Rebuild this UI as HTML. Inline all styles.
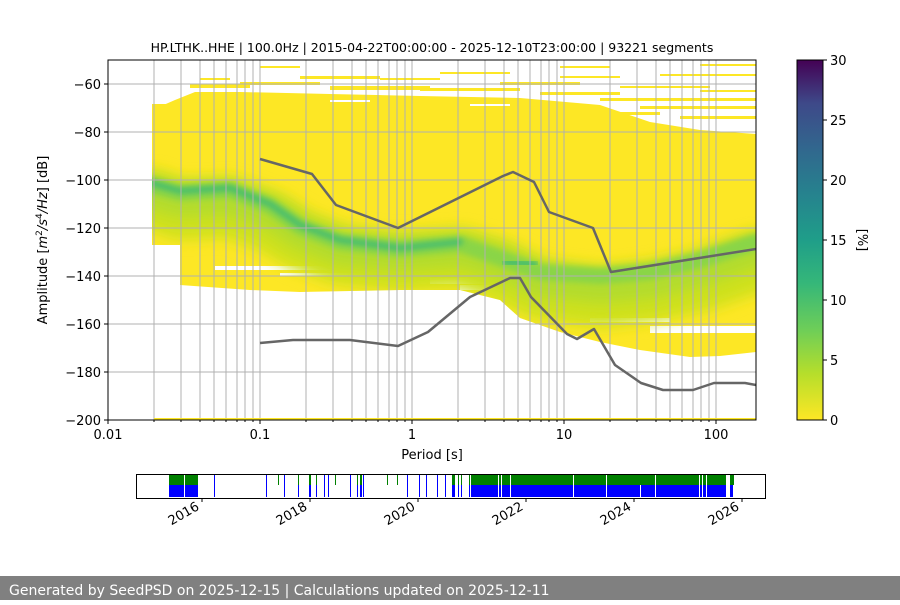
<!DOCTYPE html>
<html><head><meta charset="utf-8"><style>
body{margin:0;background:#fff;width:900px;height:600px;overflow:hidden;font-family:"Liberation Sans","DejaVu Sans",sans-serif}
</style></head><body>
<svg width="900" height="600" viewBox="0 0 900 600" xmlns="http://www.w3.org/2000/svg" font-family="'DejaVu Sans','Liberation Sans',sans-serif">
<defs>
<linearGradient id="vir" x1="0" y1="1" x2="0" y2="0">
<stop offset="0" stop-color="#fde725"/><stop offset="0.13" stop-color="#b5de2b"/><stop offset="0.25" stop-color="#6ece58"/><stop offset="0.38" stop-color="#35b779"/><stop offset="0.5" stop-color="#1f9e89"/><stop offset="0.63" stop-color="#26828e"/><stop offset="0.75" stop-color="#31688e"/><stop offset="0.88" stop-color="#3e4989"/><stop offset="1" stop-color="#440154"/>
</linearGradient>
<filter id="bl" x="-10%" y="-50%" width="120%" height="200%"><feGaussianBlur stdDeviation="7"/></filter>
<filter id="bl2" x="-10%" y="-50%" width="120%" height="200%"><feGaussianBlur stdDeviation="3"/></filter>
<clipPath id="cp"><rect x="108" y="60" width="648" height="360"/></clipPath>
<clipPath id="cy"><path d="M152,110 L175,100 L195,92 L240,92 L330,94 L420,96 L520,98 L600,105 L650,122 L700,130 L756,134 L756,352 L720,356 L690,357 L640,350 L600,342 L560,332 L520,318 L500,300 L460,290 L400,290 L300,292 L250,290 L180,285 L180,245 L152,245 Z"/></clipPath>
</defs>
<text x="432" y="52" font-size="12.5" text-anchor="middle">HP.LTHK..HHE | 100.0Hz | 2015-04-22T00:00:00 - 2025-12-10T23:00:00 | 93221 segments</text>
<g clip-path="url(#cp)">
<path d="M152,110 L175,100 L195,92 L240,92 L330,94 L420,96 L520,98 L600,105 L650,122 L700,130 L756,134 L756,352 L720,356 L690,357 L640,350 L600,342 L560,332 L520,318 L500,300 L460,290 L400,290 L300,292 L250,290 L180,285 L180,245 L152,245 Z" fill="#fde725"/>
<g fill="#fde725">
<rect x="152" y="104" width="30" height="6"/><rect x="190" y="84" width="60" height="4"/><rect x="200" y="78" width="30" height="2"/><rect x="240" y="82" width="80" height="3"/><rect x="260" y="66" width="40" height="2"/><rect x="300" y="76" width="80" height="3"/><rect x="330" y="86" width="100" height="4"/><rect x="380" y="78" width="60" height="2"/><rect x="420" y="88" width="100" height="3"/><rect x="440" y="72" width="70" height="2"/><rect x="500" y="82" width="80" height="3"/><rect x="540" y="92" width="80" height="3"/><rect x="560" y="76" width="60" height="2"/><rect x="600" y="98" width="156" height="3"/><rect x="620" y="86" width="90" height="2"/><rect x="640" y="106" width="116" height="3"/><rect x="660" y="74" width="96" height="2"/><rect x="700" y="64" width="56" height="2"/><rect x="680" y="116" width="76" height="3"/><rect x="700" y="90" width="56" height="2"/><rect x="620" y="112" width="40" height="3"/><rect x="230" y="98" width="50" height="2"/><rect x="560" y="66" width="50" height="2"/>
</g>
<g fill="#fff">
<rect x="215" y="266" width="120" height="4"/><rect x="280" y="273" width="150" height="3"/><rect x="430" y="278" width="60" height="6"/><rect x="460" y="285" width="50" height="5"/><rect x="650" y="326" width="106" height="7"/><rect x="590" y="318" width="80" height="4"/><rect x="330" y="100" width="40" height="2"/><rect x="470" y="104" width="40" height="2"/>
</g>
<g clip-path="url(#cy)" fill="none" stroke-linecap="round" stroke-linejoin="round">
<polyline filter="url(#bl)" stroke="#cfe11d" stroke-width="60" points="152,200 180,210 230,208 270,222 300,240 340,255 400,262 460,258 500,270 540,290 600,298 650,292 700,282 756,262"/>
<polyline filter="url(#bl)" stroke="#b2dc2d" stroke-width="34" points="152,192 180,200 230,198 270,212 300,232 340,248 400,254 460,250 500,262 540,280 600,286 650,282 700,270 756,250"/>
<polyline filter="url(#bl2)" stroke="#8ad547" stroke-width="16" points="152,186 180,193 230,190 270,206 300,227 340,242 400,249 460,244 500,258 540,272 600,276 650,272 700,260 756,242"/>
<polyline filter="url(#bl2)" stroke="#3dba74" stroke-width="6" opacity="0.9" points="152,183 180,191 230,188 270,204 300,225 340,240 400,248 460,242"/>
<polyline filter="url(#bl2)" stroke="#3dba74" stroke-width="7" opacity="0.9" points="505,262 535,264"/>
</g>
</g>
<g stroke="#b0b0b0" stroke-width="1">
<path d="M154,60V420M181,60V420M200,60V420M214,60V420M226,60V420M237,60V420M245,60V420M253,60V420M260,60V420M306,60V420M333,60V420M352,60V420M366,60V420M378,60V420M389,60V420M397,60V420M405,60V420M412,60V420M458,60V420M485,60V420M504,60V420M518,60V420M530,60V420M541,60V420M549,60V420M557,60V420M564,60V420M610,60V420M637,60V420M656,60V420M670,60V420M682,60V420M693,60V420M701,60V420M709,60V420M716,60V420"/>
<path d="M108,84H756M108,132H756M108,180H756M108,228H756M108,276H756M108,324H756M108,372H756"/>
</g>
<g fill="none" stroke="#666" stroke-width="2.5" stroke-linejoin="round" clip-path="url(#cp)">
<polyline points="260,159 312,174 336,205 398,228 503,176 513,172 534,182 549,212 593,228 611,272 756,249"/>
<polyline points="260,343 293,340 350,340 398,346 428,332 470,297 510,278 520,278 531,297 567,334 577,339 594,329 615,365 641,383 663,390 693,390 714,383 745,383 756,385"/>
</g>
<rect x="154" y="418" width="602" height="2" fill="#fde725"/>
<rect x="108" y="60" width="648" height="360" fill="none" stroke="#000" stroke-width="1"/>
<g font-size="13" text-anchor="end">
<path d="M104,84H108M104,132H108M104,180H108M104,228H108M104,276H108M104,324H108M104,372H108M104,420H108" stroke="#000"/>
<text x="101" y="89">−60</text><text x="101" y="137">−80</text><text x="101" y="185">−100</text><text x="101" y="233">−120</text><text x="101" y="281">−140</text><text x="101" y="329">−160</text><text x="101" y="377">−180</text><text x="101" y="425">−200</text>
</g>
<g font-size="13" text-anchor="middle">
<path d="M108,420V424M260,420V424M412,420V424M564,420V424M716,420V424" stroke="#000"/>
<path d="M154,420V422M181,420V422M200,420V422M214,420V422M226,420V422M237,420V422M245,420V422M253,420V422M306,420V422M333,420V422M352,420V422M366,420V422M378,420V422M389,420V422M397,420V422M405,420V422M458,420V422M485,420V422M504,420V422M518,420V422M530,420V422M541,420V422M549,420V422M557,420V422M610,420V422M637,420V422M656,420V422M670,420V422M682,420V422M693,420V422M701,420V422M709,420V422" stroke="#000"/>
<text x="108" y="439">0.01</text><text x="260" y="439">0.1</text><text x="412" y="439">1</text><text x="564" y="439">10</text><text x="716" y="439">100</text>
<text x="432" y="459">Period [s]</text>
</g>
<text transform="translate(47,240) rotate(-90)" font-size="13" text-anchor="middle">Amplitude [<tspan font-style="italic">m</tspan><tspan font-size="9" dy="-5">2</tspan><tspan dy="5" font-style="italic">/s</tspan><tspan font-size="9" dy="-5">4</tspan><tspan dy="5" font-style="italic">/Hz</tspan>] [dB]</text>
<rect x="797" y="60" width="26" height="360" fill="url(#vir)" stroke="#000" stroke-width="1"/>
<g font-size="13">
<path d="M823,60h4M823,120h4M823,180h4M823,240h4M823,300h4M823,360h4M823,420h4" stroke="#000"/>
<text x="830" y="65">30</text><text x="830" y="125">25</text><text x="830" y="185">20</text><text x="830" y="245">15</text><text x="830" y="305">10</text><text x="830" y="365">5</text><text x="830" y="425">0</text>
<text transform="translate(858,240) rotate(90)" text-anchor="middle">[%]</text>
</g>
<rect x="136.5" y="474.5" width="629" height="24" fill="#fff" stroke="#000"/>
<g fill="#008000"><rect x="169" y="475" width="29" height="10"/><rect x="471" y="475" width="255" height="10"/><rect x="730" y="475" width="4" height="10"/>
<rect x="214" y="475" width="1" height="10"/><rect x="278" y="475" width="1" height="10"/><rect x="298" y="475" width="1" height="10"/><rect x="309" y="475" width="2" height="10"/><rect x="316" y="475" width="1" height="10"/><rect x="335" y="475" width="1" height="10"/><rect x="357" y="475" width="1" height="10"/><rect x="360" y="475" width="2" height="10"/><rect x="387" y="475" width="1" height="10"/><rect x="397" y="475" width="1" height="10"/><rect x="452" y="475" width="3" height="10"/><rect x="458" y="475" width="1" height="10"/><rect x="461" y="475" width="1" height="10"/><rect x="469" y="475" width="1" height="10"/></g>
<g fill="#0000ff"><rect x="169" y="485" width="29" height="12"/><rect x="471" y="485" width="255" height="12"/><rect x="730" y="485" width="3" height="12"/>
<rect x="214" y="475" width="1" height="22"/><rect x="266" y="475" width="1" height="22"/><rect x="284" y="475" width="1" height="22"/><rect x="298" y="485" width="1" height="12"/><rect x="309" y="485" width="2" height="12"/><rect x="316" y="485" width="1" height="12"/><rect x="324" y="475" width="1" height="22"/><rect x="328" y="475" width="1" height="22"/><rect x="350" y="475" width="1" height="22"/><rect x="357" y="485" width="1" height="12"/><rect x="360" y="485" width="2" height="12"/><rect x="363" y="475" width="1" height="22"/><rect x="407" y="475" width="1" height="22"/><rect x="419" y="475" width="1" height="22"/><rect x="426" y="475" width="1" height="22"/><rect x="437" y="475" width="1" height="22"/><rect x="445" y="475" width="1" height="22"/><rect x="452" y="485" width="3" height="12"/><rect x="458" y="485" width="1" height="12"/><rect x="461" y="485" width="1" height="12"/><rect x="469" y="485" width="1" height="12"/></g>
<g fill="#fff"><rect x="184" y="475" width="1" height="22"/><rect x="498" y="475" width="1" height="22"/><rect x="501" y="475" width="1" height="22"/><rect x="510" y="475" width="1" height="22"/><rect x="573" y="475" width="1" height="22"/><rect x="606" y="475" width="1" height="22"/><rect x="640" y="485" width="1" height="12"/><rect x="655" y="475" width="1" height="22"/><rect x="699" y="475" width="1" height="22"/><rect x="702" y="475" width="1" height="22"/><rect x="706" y="475" width="1" height="22"/></g>
<g font-size="13" text-anchor="end">
<path d="M202,498v4M310,498v4M418,498v4M526,498v4M634,498v4M742,498v4" stroke="#000"/>
<text transform="translate(200,509) rotate(-30)">2016</text><text transform="translate(308,509) rotate(-30)">2018</text><text transform="translate(416,509) rotate(-30)">2020</text><text transform="translate(524,509) rotate(-30)">2022</text><text transform="translate(632,509) rotate(-30)">2024</text><text transform="translate(740,509) rotate(-30)">2026</text>
</g>
<rect x="0" y="576" width="900" height="24" fill="#808080"/>
<text x="9" y="595" font-size="14" fill="#fff">Generated by SeedPSD on 2025-12-15 | Calculations updated on 2025-12-11</text>
</svg>
</body></html>
